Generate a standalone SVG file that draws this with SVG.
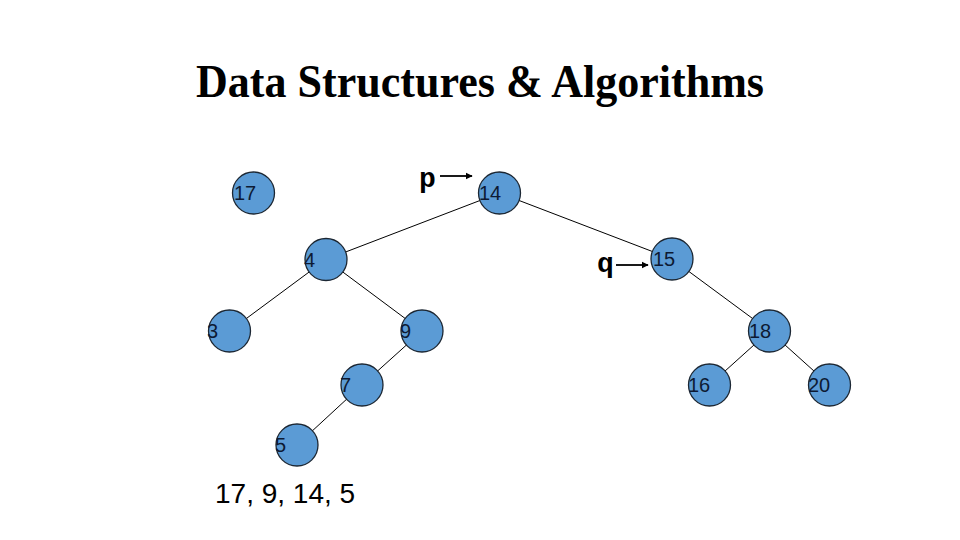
<svg xmlns="http://www.w3.org/2000/svg" width="960" height="540" viewBox="0 0 960 540">
<defs>
<style>
.node circle{fill:#5b9bd5;stroke:#1c2733;stroke-width:1.3}
.node text{font-family:"Liberation Sans",Arial,sans-serif;font-size:20px;fill:#0d1a33}
.edges line{stroke:#000;stroke-width:1}
.ptr line{stroke:#000;stroke-width:1.8}
.ptr text{font-family:"Liberation Mono","Courier New",monospace;font-weight:bold;font-size:28px;fill:#000}
</style>
<marker id="ah" viewBox="0 0 10 10" refX="9" refY="5" markerWidth="4" markerHeight="4" orient="auto" markerUnits="strokeWidth">
<path d="M0,0 L10,5 L0,10 z" fill="#000"/>
</marker>
</defs>
<rect width="960" height="540" fill="#fff"/>
<text x="196" y="97" textLength="568" lengthAdjust="spacingAndGlyphs" font-family="'Liberation Serif','Times New Roman',serif" font-weight="bold" font-size="46">Data Structures &amp; Algorithms</text>
<g class="edges" id="connectors">
<line x1="499.5" y1="193" x2="326" y2="259.5"/>
<line x1="499.5" y1="193" x2="672" y2="259"/>
<line x1="326" y1="259.5" x2="229.5" y2="331"/>
<line x1="326" y1="259.5" x2="422" y2="331"/>
<line x1="422" y1="331" x2="362" y2="385"/>
<line x1="362" y1="385" x2="297" y2="445"/>
<line x1="672" y1="259" x2="769.5" y2="331"/>
<line x1="769.5" y1="331" x2="709.5" y2="385"/>
<line x1="769.5" y1="331" x2="829.5" y2="385"/>
</g>
<g id="n17" class="node"><circle cx="253.5" cy="193" r="21"/><text x="234" y="200">17</text></g>
<g id="n14" class="node"><circle cx="499.5" cy="193" r="21"/><text x="479" y="200">14</text></g>
<g id="n4" class="node"><circle cx="326" cy="259.5" r="21"/><text x="304" y="267">4</text></g>
<g id="n15" class="node"><circle cx="672" cy="259" r="21"/><text x="653" y="266">15</text></g>
<g id="n3" class="node"><circle cx="229.5" cy="331" r="21"/><text x="207" y="338">3</text></g>
<g id="n9" class="node"><circle cx="422" cy="331" r="21"/><text x="400" y="338">9</text></g>
<g id="n18" class="node"><circle cx="769.5" cy="331" r="21"/><text x="749" y="338">18</text></g>
<g id="n7" class="node"><circle cx="362" cy="385" r="21"/><text x="340" y="392">7</text></g>
<g id="n16" class="node"><circle cx="709.5" cy="385" r="21"/><text x="688" y="392">16</text></g>
<g id="n20" class="node"><circle cx="829.5" cy="385" r="21"/><text x="808" y="392">20</text></g>
<g id="n5" class="node"><circle cx="297" cy="445" r="21"/><text x="275" y="452">5</text></g>
<g id="p" class="ptr"><text x="419" y="187">p</text><line x1="440" y1="176" x2="472" y2="176" marker-end="url(#ah)"/></g>
<g id="q" class="ptr"><text x="597" y="272">q</text><line x1="616" y1="265" x2="648" y2="265" marker-end="url(#ah)"/></g>
<text x="215" y="503" font-family="'Liberation Sans',Arial,sans-serif" font-size="28" fill="#000">17, 9, 14, 5</text>
</svg>
